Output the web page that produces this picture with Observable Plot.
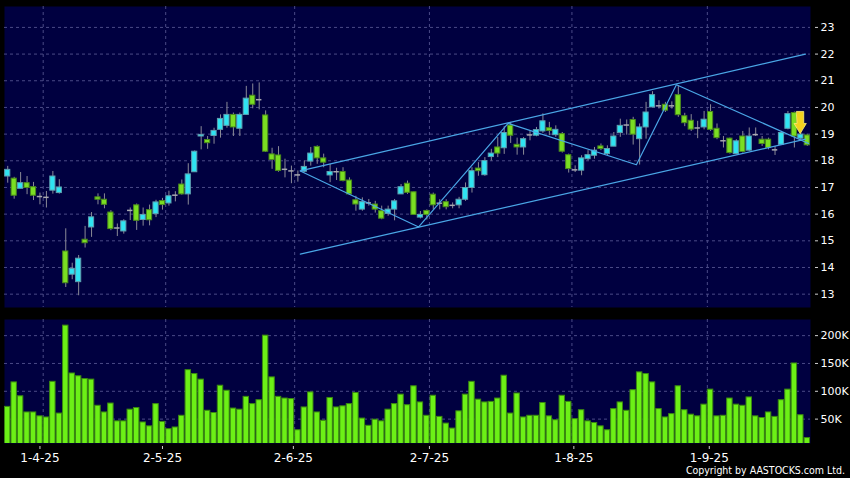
<!DOCTYPE html>
<html><head><meta charset="utf-8">
<script src="https://cdn.jsdelivr.net/npm/d3@7"></script>
<script src="https://cdn.jsdelivr.net/npm/@observablehq/plot@0.6"></script>
<style>
html,body{margin:0;padding:0;background:#000;}
#chart{width:850px;height:478px;background:#000;position:relative;overflow:hidden;}
#chart svg{display:block;}
#copy{position:absolute;right:5px;top:465px;line-height:11px;color:#fff;font-family:"DejaVu Sans Condensed","DejaVu Sans",sans-serif;font-stretch:condensed;font-size:10.5px;white-space:nowrap;}
</style></head><body>
<div id="chart"><div id="top"></div><div id="bottom"></div><div id="copy">Copyright by AASTOCKS.com Ltd.</div></div>
<script>
// ---- data (one entry per trading day, left to right) ----
const opens = [17.41,17.33,16.95,17.16,17.01,16.66,16.63,16.88,16.79,14.6,13.73,13.45,15.04,15.5,16.63,16.54,16.06,15.48,15.35,16.14,16.33,15.78,16.15,16.0,16.49,16.4,16.71,17.11,16.74,17.57,18.91,18.78,18.93,19.16,19.31,19.72,19.2,19.72,20.44,20.29,19.7,18.24,18.2,17.68,17.62,17.47,17.59,17.97,18.52,18.09,17.45,17.59,17.58,17.26,16.52,16.17,16.42,16.36,16.11,16.01,16.17,16.74,17.14,16.82,15.87,16.12,16.73,16.41,16.45,16.33,16.33,16.54,16.98,17.71,17.46,18.14,18.5,18.47,19.32,18.6,18.5,18.97,18.94,19.1,19.22,18.96,19.0,18.21,17.66,17.63,18.06,18.19,18.54,18.25,18.53,19.04,19.34,19.53,18.81,19.25,20.0,20.06,20.1,20.06,20.46,19.67,19.5,19.23,19.25,19.83,19.2,18.75,18.83,18.25,18.91,18.38,18.98,18.79,18.79,18.41,18.6,19.2,19.79,18.83,18.95];
const highs = [17.79,17.38,17.56,17.41,17.19,16.79,16.85,17.6,17.29,15.45,14.16,14.45,15.54,16.06,16.76,16.76,16.13,15.63,15.79,16.23,16.38,16.23,16.34,16.52,16.59,16.86,16.84,17.28,17.89,18.37,19.28,18.91,19.22,19.72,20.19,19.79,19.79,20.79,20.88,20.92,19.87,18.47,18.53,18.06,17.8,17.62,17.99,18.5,18.56,18.25,17.87,17.72,17.74,17.36,16.67,16.61,16.55,16.48,16.3,16.3,16.55,17.11,17.24,16.83,16.1,16.16,16.79,16.54,16.54,16.42,16.63,17.17,17.74,17.93,18.12,18.43,18.87,19.28,19.44,18.85,18.87,19.1,19.25,19.76,19.44,19.31,19.06,18.25,17.81,18.19,18.38,18.5,18.63,18.56,19.06,19.56,19.53,19.63,19.38,20.19,20.59,20.25,20.19,20.21,20.81,19.78,19.73,19.48,19.85,20.1,19.38,18.91,18.85,18.79,19.1,19.23,19.23,18.91,18.85,18.54,19.1,19.85,19.83,19.04,19.0];
const lows = [17.16,16.56,16.95,16.73,16.51,16.35,16.23,16.75,16.75,13.25,13.54,12.94,14.73,15.13,16.35,16.2,15.38,15.16,15.25,15.76,15.39,15.55,15.56,15.87,16.15,16.3,16.46,16.71,16.34,17.57,18.41,18.43,18.62,18.85,19.22,18.91,18.91,19.72,19.95,19.91,18.31,17.68,17.57,17.36,17.14,17.2,17.55,17.8,17.87,17.74,17.18,17.26,17.21,16.71,16.11,16.11,16.3,16.04,15.79,15.92,15.75,16.74,16.74,15.95,15.82,15.78,16.16,16.16,16.16,16.2,16.2,16.48,16.79,17.42,17.42,17.99,18.12,18.24,18.65,18.21,18.21,18.75,18.9,19.03,18.94,18.88,18.29,17.54,17.56,17.44,18.0,18.06,18.38,18.19,18.53,18.88,18.96,18.59,17.84,18.81,20.0,19.94,19.81,19.94,19.63,19.28,19.1,18.83,19.16,19.1,18.79,18.48,18.25,18.23,18.29,18.35,18.91,18.54,18.41,18.2,18.58,19.16,18.48,18.75,18.54];
const closes = [17.66,16.69,17.16,16.98,16.69,16.66,16.63,17.41,17.0,13.41,13.95,14.33,14.91,15.88,16.54,16.35,15.44,15.48,15.73,16.14,15.75,15.97,15.77,16.44,16.34,16.67,16.71,16.74,17.49,18.34,18.97,18.66,19.12,19.57,19.72,19.25,19.72,20.33,20.1,20.29,18.34,18.03,17.62,17.68,17.62,17.47,17.77,18.27,18.09,17.93,17.58,17.59,17.24,16.74,16.36,16.45,16.42,16.17,15.83,16.17,16.48,17.01,16.8,15.97,15.97,15.97,16.33,16.41,16.26,16.33,16.54,16.98,17.61,17.61,17.99,18.27,18.27,19.04,18.94,18.5,18.81,18.97,19.15,19.48,19.12,19.16,18.34,17.69,17.66,18.09,18.21,18.38,18.44,18.44,18.91,19.31,19.34,18.98,19.25,19.81,20.46,20.06,19.88,20.06,19.71,19.41,19.17,19.23,19.54,19.16,18.85,18.75,18.29,18.73,18.33,18.91,18.98,18.63,18.48,18.41,19.04,19.75,18.91,18.98,18.58];
const volumes = [72,116,91,62,62,55,53,117,60,218,132,127,122,121,74,62,78,46,46,67,70,44,37,77,45,32,35,56,138,131,121,65,61,110,101,69,67,90,77,84,200,125,90,87,86,30,71,98,62,47,88,71,73,77,97,51,38,49,46,67,77,94,75,109,80,56,92,54,42,33,64,94,117,85,80,81,87,128,60,96,53,56,56,79,55,48,92,81,50,66,46,43,37,30,68,80,65,102,134,131,116,68,53,59,109,66,58,55,76,103,55,56,87,76,74,89,55,52,62,54,84,103,150,57,16].map(v => v * 1000);

// axis ticks and labels
const priceTicks = [13,14,15,16,17,18,19,20,21,22,23];
const volumeTicks = [50000,100000,150000,200000];
const dateTickPos = [5, 24, 44.3, 65.4, 87.8, 108.8];
const dateTickLabels = ["1-4-25","2-5-25","2-6-25","2-7-25","1-8-25","1-9-25"];
const monthGrid = [5.5, 24.5, 44.5, 65.4, 87.5, 108.5];

// drawn pattern lines (bar index, price)
const zigzagX = [45.37, 63.73, 77.6, 97.5, 103.7, 124.2];
const zigzagY = [17.62, 15.52, 19.4, 17.85, 20.85, 18.65];
const upperX = [45.37, 123.72], upperY = [17.62, 22.0];
const lowerX = [45.37, 123.72], lowerY = [14.5, 18.81];
// down-arrow marker
const arrowX = [122.35, 123.45, 123.45, 123.85, 122.9, 121.95, 122.35];
const arrowY = [19.85, 19.85, 19.4, 19.4, 19.02, 19.4, 19.4];

// ---- styles ----
const NAVY = "#000040", GRID = "#4a4a86", WICK = "#8a8a96";
const CYAN = "#2fe4f2", GREEN = "#7ade22", GREY = "#a8a8b0";
const LINE = "#4aa6e6";

const N = opens.length;
const candles = d3.range(N).map(i => ({i, o: opens[i], h: highs[i], l: lows[i], c: closes[i], v: volumes[i]}));
const bodies = candles.filter(d => d.c !== d.o);
const dojis = candles.filter(d => d.c === d.o);
const zig = zigzagX.map((x, k) => ({x, y: zigzagY[k]}));
const up = upperX.map((x, k) => ({x, y: upperY[k]}));
const lo = lowerX.map((x, k) => ({x, y: lowerY[k]}));
const arrow = arrowX.map((x, k) => ({x, y: arrowY[k]}));

const xDomain = [-0.5, N - 0.5];
const common = {
  width: 850, marginLeft: 4, marginRight: 40,
  style: {background: "#000", color: "#fff", fontFamily: "DejaVu Sans", fontSize: "11px"},
  color: {type: "identity"}
};

const price = Plot.plot({
  ...common,
  height: 312, marginTop: 6, marginBottom: 5,
  x: {type: "linear", domain: xDomain, axis: null},
  y: {domain: [12.5, 23.784]},
  marks: [
    Plot.frame({fill: NAVY, stroke: "none"}),
    Plot.ruleY(priceTicks, {stroke: GRID, strokeDasharray: "3,3"}),
    Plot.ruleX(monthGrid, {stroke: GRID, strokeDasharray: "3,3"}),
    Plot.ruleX(candles, {x: "i", y1: "l", y2: "h", stroke: WICK, strokeWidth: 1}),
    Plot.rect(bodies, {
      x1: d => d.i - 0.4, x2: d => d.i + 0.4, y1: "o", y2: "c",
      fill: d => d.c > d.o ? CYAN : GREEN,
      stroke: d => d.c > d.o ? "#5f9fb0" : "#4a8a1c", strokeWidth: 1
    }),
    Plot.ruleY(dojis, {y: "c", x1: d => d.i - 0.42, x2: d => d.i + 0.42, stroke: GREY, strokeWidth: 1.5}),
    Plot.line(up, {x: "x", y: "y", stroke: LINE, strokeWidth: 1.2}),
    Plot.line(lo, {x: "x", y: "y", stroke: LINE, strokeWidth: 1.2}),
    Plot.line(zig, {x: "x", y: "y", stroke: LINE, strokeWidth: 1.2}),
    Plot.line(arrow, {x: "x", y: "y", fill: "#f4d21e", stroke: "#fff27a", strokeWidth: 0.8, curve: "linear-closed"}),
    Plot.axisY(priceTicks, {anchor: "right", label: null, tickSize: 3, tickPadding: 3, dx: 4, fontSize: 11, stroke: "#cfcfcf"})
  ]
});

const vol = Plot.plot({
  ...common,
  height: 166, marginTop: 7, marginBottom: 35,
  x: {type: "linear", domain: xDomain, label: null},
  y: {domain: [6200, 229000], label: null},
  marks: [
    Plot.frame({fill: NAVY, stroke: "none"}),
    Plot.ruleY(volumeTicks, {stroke: GRID, strokeDasharray: "3,3"}),
    Plot.ruleX(monthGrid, {stroke: GRID, strokeDasharray: "3,3"}),
    Plot.rect(candles, {x1: d => d.i - 0.42, x2: d => d.i + 0.42, y1: 0, y2: "v", fill: "#6cf016", stroke: "#3b8a10", strokeWidth: 1, clip: true}),
    Plot.axisY(volumeTicks, {anchor: "right", label: null, tickSize: 3, tickPadding: 3, dx: 4, fontSize: 11, stroke: "#cfcfcf", tickFormat: d => (d / 1000) + "K"}),
    Plot.axisX(dateTickPos, {anchor: "bottom", label: null, tickSize: 3, tickPadding: 4, dy: 3, fontSize: 12, stroke: "#cfcfcf",
      tickFormat: d => dateTickLabels[dateTickPos.indexOf(d)]})
  ]
});

document.getElementById("top").appendChild(price);
document.getElementById("bottom").appendChild(vol);
</script>
</body></html>
